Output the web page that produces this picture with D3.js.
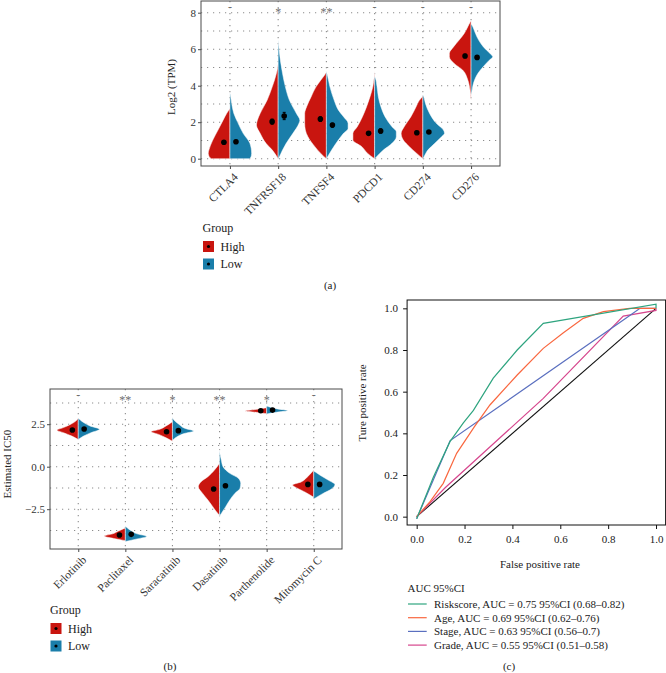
<!DOCTYPE html>
<html>
<head>
<meta charset="utf-8">
<script src="https://cdn.jsdelivr.net/npm/d3@7"></script>
<style>
  body { margin: 0; background: #fff; }
  svg { display: block; }
</style>
</head>
<body>
<script>
// ---------- data: panel (a) immune checkpoint genes ----------
const genes = ["CTLA4", "TNFRSF18", "TNFSF4", "PDCD1", "CD274", "CD276"];
const geneSig = ["-", "*", "**", "-", "-", "-"];
// violin outlines: [log2 TPM, relative half width]
const geneHighShape = [
  [[0, 0.86], [0.1, 0.95], [0.3, 1.0], [0.47, 0.97], [1.02, 0.79], [1.57, 0.55], [2.1, 0.32], [2.5, 0.14], [2.75, 0]],
  [[0, 0], [0.47, 0.27], [0.84, 0.56], [1.39, 0.83], [1.84, 1.0], [2.1, 0.96], [2.48, 0.83], [3.2, 0.51], [3.95, 0.27], [4.68, 0.08], [5.04, 0.02], [5.3, 0]],
  [[0, 0], [0.29, 0.26], [0.66, 0.53], [1.2, 0.85], [1.57, 0.97], [1.94, 1.0], [2.48, 1.0], [2.85, 0.91], [3.4, 0.7], [3.95, 0.47], [4.3, 0.26], [4.68, 0.03], [4.75, 0]],
  [[0, 0], [0.29, 0.32], [0.66, 0.59], [1.02, 1.0], [1.39, 1.0], [1.75, 0.8], [2.3, 0.56], [2.85, 0.37], [3.4, 0.21], [3.95, 0.08], [4.5, 0.02], [4.8, 0]],
  [[0, 0], [0.29, 0.28], [0.66, 0.62], [1.02, 0.9], [1.39, 1.0], [1.75, 0.86], [2.3, 0.55], [2.85, 0.31], [3.2, 0.16], [3.4, 0.03], [3.5, 0]],
  [[3.2, 0], [3.76, 0.05], [4.31, 0.15], [4.86, 0.39], [5.22, 0.78], [5.59, 1.0], [5.77, 1.0], [6.14, 0.8], [6.5, 0.55], [6.87, 0.31], [7.23, 0.15], [7.5, 0.03], [7.55, 0]]
];
const geneLowShape = [
  [[0, 0.9], [0.1, 0.97], [0.29, 1.0], [0.84, 0.92], [1.39, 0.61], [1.94, 0.38], [2.48, 0.18], [3.03, 0.08], [3.5, 0.02], [3.6, 0]],
  [[0, 0], [0.1, 0.05], [0.47, 0.2], [0.84, 0.37], [1.39, 0.68], [1.94, 0.96], [2.1, 1.0], [2.48, 0.84], [3.2, 0.52], [3.95, 0.33], [4.68, 0.2], [5.4, 0.1], [6.14, 0.03], [6.5, 0]],
  [[0, 0], [0.1, 0.05], [0.47, 0.24], [1.02, 0.55], [1.39, 0.79], [1.66, 1.0], [1.94, 1.0], [2.3, 0.79], [2.67, 0.55], [3.2, 0.36], [3.95, 0.16], [4.5, 0.06], [4.8, 0]],
  [[0, 0], [0.1, 0.08], [0.47, 0.4], [0.84, 0.8], [1.2, 1.0], [1.48, 1.0], [1.75, 0.8], [2.3, 0.48], [2.85, 0.29], [3.4, 0.17], [3.95, 0.11], [4.4, 0.04], [4.5, 0]],
  [[0, 0], [0.1, 0.05], [0.47, 0.23], [0.84, 0.55], [1.2, 0.86], [1.39, 1.0], [1.57, 0.95], [1.94, 0.62], [2.48, 0.31], [3.03, 0.12], [3.4, 0.04], [3.5, 0]],
  [[3.5, 0], [3.58, 0.02], [4.13, 0.11], [4.68, 0.32], [5.04, 0.56], [5.4, 0.84], [5.59, 1.0], [5.77, 0.87], [6.14, 0.56], [6.5, 0.35], [6.87, 0.2], [7.23, 0.08], [7.4, 0]]
];
const geneHighMean = [0.9, 2.03, 2.17, 1.39, 1.42, 5.63];
const geneLowMean = [0.93, 2.34, 1.84, 1.52, 1.46, 5.55];
const geneHighSe = [0.08, 0.14, 0.13, 0.1, 0.09, 0.1];
const geneLowSe = [0.08, 0.2, 0.1, 0.12, 0.07, 0.1];
const geneTicks = [0, 2, 4, 6, 8];
const geneMinor = [1, 3, 5, 7];

// ---------- data: panel (b) drug sensitivity ----------
const drugs = ["Erlotinib", "Paclitaxel", "Saracatinib", "Dasatinib", "Parthenolide", "Mitomycin C"];
const drugSig = ["-", "**", "*", "**", "*", "-"];
const drugHighShape = [
  [[1.6, 0], [1.8, 0.3], [2.0, 0.7], [2.15, 1.0], [2.3, 0.7], [2.5, 0.35], [2.7, 0.1], [2.85, 0]],
  [[-4.35, 0], [-4.22, 0.55], [-4.08, 1.0], [-3.95, 0.6], [-3.8, 0.35], [-3.6, 0]],
  [[1.5, 0], [1.7, 0.3], [1.9, 0.65], [2.06, 1.0], [2.2, 0.6], [2.4, 0.3], [2.65, 0]],
  [[-2.85, 0], [-2.75, 0.08], [-2.35, 0.32], [-1.96, 0.55], [-1.57, 0.8], [-1.18, 1.0], [-0.88, 0.87], [-0.59, 0.55], [-0.2, 0.24], [0.2, 0]],
  [[3.12, 0], [3.2, 0.5], [3.28, 1.0], [3.36, 0.55], [3.47, 0]],
  [[-1.8, 0], [-1.5, 0.4], [-1.25, 0.8], [-1.08, 1.0], [-0.9, 0.6], [-0.6, 0.3], [-0.2, 0]]
];
const drugLowShape = [
  [[1.6, 0], [1.8, 0.25], [2.0, 0.6], [2.2, 1.0], [2.4, 0.55], [2.6, 0.25], [2.85, 0]],
  [[-4.4, 0], [-4.25, 0.55], [-4.1, 1.0], [-3.95, 0.55], [-3.75, 0.25], [-3.5, 0]],
  [[1.55, 0], [1.75, 0.2], [1.95, 0.55], [2.1, 1.0], [2.25, 0.6], [2.5, 0.3], [2.7, 0.1], [2.9, 0]],
  [[-2.9, 0], [-2.75, 0.08], [-2.35, 0.28], [-1.96, 0.47], [-1.57, 0.7], [-1.27, 0.94], [-0.98, 0.97], [-0.69, 0.87], [-0.39, 0.47], [0, 0.16], [0.39, 0.08], [0.69, 0.03], [1.0, 0]],
  [[3.1, 0], [3.2, 0.45], [3.3, 1.0], [3.4, 0.5], [3.57, 0]],
  [[-1.9, 0], [-1.6, 0.4], [-1.3, 0.85], [-1.05, 1.0], [-0.8, 0.7], [-0.5, 0.3], [-0.25, 0]]
];
const drugHighMean = [2.16, -4.02, 2.06, -1.31, 3.29, -1.04];
const drugLowMean = [2.22, -3.98, 2.12, -1.12, 3.33, -1.04];
const drugHighSe = [0.03, 0.02, 0.03, 0.08, 0.01, 0.04];
const drugLowSe = [0.03, 0.02, 0.03, 0.08, 0.01, 0.04];
const drugTicks = [2.5, 0, -2.5];
const drugMinor = [3.75, 1.25, -1.25, -3.75];

// ---------- data: panel (c) ROC ----------
const rocNames = ["Riskscore", "Age", "Stage", "Grade"];
const rocLegend = [
  "Riskscore, AUC = 0.75 95%CI (0.68\u20130.82)",
  "Age, AUC = 0.69 95%CI (0.62\u20130.76)",
  "Stage, AUC = 0.63 95%CI (0.56\u20130.7)",
  "Grade, AUC = 0.55 95%CI (0.51\u20130.58)"
];
const rocColors = ["#2EA47F", "#F9673F", "#5A6FBF", "#D6468D"];
const rocRisk = [[0, -0.01], [0.07, 0.19], [0.139, 0.36], [0.195, 0.45], [0.237, 0.51], [0.32, 0.665], [0.42, 0.8], [0.529, 0.928], [1.0, 1.02], [1.0, 1.0]];
const rocAge = [[0, 0], [0.056, 0.072], [0.111, 0.16], [0.167, 0.304], [0.24, 0.43], [0.306, 0.536], [0.42, 0.68], [0.529, 0.808], [0.613, 0.883], [0.696, 0.952], [0.78, 0.984], [0.89, 1.0], [1, 1]];
const rocStage = [[0, -0.01], [0.14, 0.365], [0.877, 0.955], [0.933, 1.0], [1, 1]];
const rocGrade = [[0, 0], [0.12, 0.14], [0.529, 0.568], [0.863, 0.963], [1.0, 0.99], [1, 1]];
const rocRef = [[0, 0], [1, 1]];
const rocTicks = [0, 0.2, 0.4, 0.6, 0.8, 1.0];

// ---------- setup ----------
const FONT = "'Liberation Serif', 'DejaVu Serif', serif";
const RED = "#C9150F", BLUE = "#1A7EAA";
const svg = d3.select("body").append("svg")
  .attr("width", 666).attr("height", 673)
  .style("font-family", FONT);

function violinPanel(o) {
  const g = svg.append("g");
  const x = d3.scalePoint().domain(o.cats).range([o.left, o.right]).padding(0.6);
  const y = d3.scaleLinear().domain(o.yDomain).range([o.bottom, o.top]);
  const hw = x.step() * 0.45;
  const off = x.step() * 0.125;

  // dotted grid
  const grid = g.append("g").attr("stroke", "#8c8c8c").attr("stroke-width", 1.1)
    .attr("stroke-dasharray", "1.2,4.8");
  grid.selectAll(".h").data(o.ticks.concat(o.minor)).join("line")
    .attr("x1", o.left).attr("x2", o.right)
    .attr("y1", d => y(d)).attr("y2", d => y(d));
  grid.selectAll(".v").data(o.cats).join("line")
    .attr("x1", d => x(d)).attr("x2", d => x(d))
    .attr("y1", o.top).attr("y2", o.bottom);

  // half violins
  o.cats.forEach((c, i) => {
    const cx = x(c);
    [[o.high[i], -1, RED], [o.low[i], 1, BLUE]].forEach(([shape, dir, col]) => {
      const mx = d3.max(shape, d => d[1]);
      const area = d3.area()
        .y(d => y(d[0]))
        .x0(cx)
        .x1(d => cx + dir * hw * d[1] / mx)
        .curve(d3.curveMonotoneY);
      g.append("path").attr("d", area(shape)).attr("fill", col)
        .attr("stroke", "#fff").attr("stroke-width", 0.5);
    });
    // mean + error bar
    [[o.highMean[i], o.highSe[i], -1], [o.lowMean[i], o.lowSe[i], 1]].forEach(([m, se, dir]) => {
      const px = cx + dir * off;
      g.append("line").attr("x1", px).attr("x2", px)
        .attr("y1", y(m - se)).attr("y2", y(m + se)).attr("stroke", "#000").attr("stroke-width", 1);
      [m - se, m + se].forEach(v => g.append("line")
        .attr("x1", px - 1.5).attr("x2", px + 1.5).attr("y1", y(v)).attr("y2", y(v))
        .attr("stroke", "#000").attr("stroke-width", 1));
      g.append("circle").attr("cx", px).attr("cy", y(m)).attr("r", 2.8).attr("fill", "#000");
    });
  });

  // significance labels
  g.selectAll(".sig").data(o.sig).join("text")
    .attr("x", (d, i) => x(o.cats[i]))
    .attr("y", d => d === "-" ? o.sigY - 5 : o.sigY)
    .attr("text-anchor", "middle")
    .attr("font-size", 12).attr("fill", "#6e6e6e")
    .text(d => d);

  // border
  g.append("rect").attr("x", o.left).attr("y", o.top)
    .attr("width", o.right - o.left).attr("height", o.bottom - o.top)
    .attr("fill", "none").attr("stroke", "#4a4a4a").attr("stroke-width", 1);

  // axes
  const ya = g.append("g").attr("transform", `translate(${o.left},0)`)
    .call(d3.axisLeft(y).tickValues(o.ticks).tickSize(3).tickPadding(2).tickFormat(o.fmt));
  ya.select(".domain").remove();
  ya.selectAll("line").attr("stroke", "#4a4a4a");
  ya.selectAll("text").attr("font-family", FONT).attr("font-size", 11).attr("fill", "#333");

  const xa = g.append("g").attr("transform", `translate(0,${o.bottom})`)
    .call(d3.axisBottom(x).tickSize(3).tickFormat(""));
  xa.select(".domain").remove();
  xa.selectAll("line").attr("stroke", "#4a4a4a");
  g.selectAll(".xl").data(o.cats).join("text")
    .attr("transform", d => `translate(${x(d) + 3},${o.bottom + 6}) rotate(-45)`)
    .attr("text-anchor", "end").attr("dy", "0.7em")
    .attr("font-size", 11.5).attr("fill", "#333")
    .text(d => d);

  // y title
  g.append("text")
    .attr("transform", `translate(${o.yLabelX},${o.yLabelY}) rotate(-90)`)
    .attr("text-anchor", "middle").attr("font-size", 11).attr("fill", "#222")
    .text(o.yLabel);

  // legend
  const lg = g.append("g").attr("transform", `translate(${o.legX},${o.legY})`);
  lg.append("text").attr("x", 0).attr("y", 0).attr("font-size", 12).attr("fill", "#222").text("Group");
  [["High", RED], ["Low", BLUE]].forEach(([lab, col], k) => {
    const ky = 9 + k * 17.5;
    lg.append("rect").attr("x", 0.5).attr("y", ky).attr("width", 11).attr("height", 11).attr("fill", col);
    lg.append("circle").attr("cx", 6).attr("cy", ky + 5.5).attr("r", 1.6).attr("fill", "#000");
    lg.append("text").attr("x", 18).attr("y", ky + 9.5).attr("font-size", 12).attr("fill", "#222").text(lab);
  });

  svg.append("text").attr("x", o.capX).attr("y", o.capY).attr("text-anchor", "middle")
    .attr("font-size", 11).attr("fill", "#222").text(o.cap);
}

violinPanel({
  cats: genes, sig: geneSig, high: geneHighShape, low: geneLowShape,
  highMean: geneHighMean, lowMean: geneLowMean, highSe: geneHighSe, lowSe: geneLowSe,
  left: 201, right: 500, top: 1, bottom: 166,
  yDomain: [(158.7 - 166) / 18.25, (158.7 - 1) / 18.25],
  ticks: geneTicks, minor: geneMinor, fmt: d3.format("d"),
  sigY: 16, yLabel: "Log2 (TPM)", yLabelX: 175, yLabelY: 87,
  legX: 202.5, legY: 232, capX: 330, capY: 289, cap: "(a)"
});

violinPanel({
  cats: drugs, sig: drugSig, high: drugHighShape, low: drugLowShape,
  highMean: drugHighMean, lowMean: drugLowMean, highSe: drugHighSe, lowSe: drugLowSe,
  left: 50, right: 342, top: 389, bottom: 549,
  yDomain: [(466.7 - 549) / 17, (466.7 - 389) / 17],
  ticks: drugTicks, minor: drugMinor, fmt: d => d3.format(".1f")(d).replace("-", "\u2212"),
  sigY: 404, yLabel: "Estimated IC50", yLabelX: 11, yLabelY: 464,
  legX: 50, legY: 614, capX: 170, capY: 670, cap: "(b)"
});

// ---------- panel (c) ROC ----------
(function () {
  const g = svg.append("g");
  const x = d3.scaleLinear().domain([-0.04, 1.04]).range([407.1, 665.6]);
  const y = d3.scaleLinear().domain([-0.04, 1.04]).range([525, 300]);
  const line = d3.line().x(d => x(d[0])).y(d => y(d[1]));

  g.append("path").attr("d", line(rocRef)).attr("fill", "none").attr("stroke", "#111").attr("stroke-width", 1.1);
  [rocGrade, rocStage, rocAge, rocRisk].forEach((s, k) => {
    g.append("path").attr("d", line(s)).attr("fill", "none")
      .attr("stroke", rocColors[3 - k]).attr("stroke-width", 1.2);
  });

  g.append("rect").attr("x", 407.1).attr("y", 300).attr("width", 665.6 - 407.1).attr("height", 225)
    .attr("fill", "none").attr("stroke", "#111").attr("stroke-width", 1);

  const ya = g.append("g").attr("transform", "translate(407.1,0)")
    .call(d3.axisLeft(y).tickValues(rocTicks).tickSize(4).tickPadding(5).tickFormat(d3.format(".1f")));
  ya.select(".domain").remove();
  ya.selectAll("line").attr("stroke", "#111");
  ya.selectAll("text").attr("font-family", FONT).attr("font-size", 11).attr("fill", "#222");

  const xa = g.append("g").attr("transform", "translate(0,525)")
    .call(d3.axisBottom(x).tickValues(rocTicks).tickSize(4).tickPadding(6).tickFormat(d3.format(".1f")));
  xa.select(".domain").remove();
  xa.selectAll("line").attr("stroke", "#111");
  xa.selectAll("text").attr("font-family", FONT).attr("font-size", 11).attr("fill", "#222");

  g.append("text").attr("x", 540).attr("y", 568).attr("text-anchor", "middle")
    .attr("font-size", 11).attr("fill", "#222").text("False positive rate");
  g.append("text").attr("transform", "translate(366,403) rotate(-90)").attr("text-anchor", "middle")
    .attr("font-size", 11).attr("fill", "#222").text("Ture positive rate");

  g.append("text").attr("x", 407.5).attr("y", 592).attr("font-size", 11).attr("fill", "#222").text("AUC 95%CI");
  rocLegend.forEach((lab, k) => {
    const ly = 604 + k * 13.7;
    g.append("line").attr("x1", 408).attr("x2", 426.7).attr("y1", ly).attr("y2", ly)
      .attr("stroke", rocColors[k]).attr("stroke-width", 1.2);
    g.append("text").attr("x", 434).attr("y", ly + 3.8).attr("font-size", 11).attr("fill", "#222").text(lab);
  });

  svg.append("text").attr("x", 509).attr("y", 670).attr("text-anchor", "middle")
    .attr("font-size", 11).attr("fill", "#222").text("(c)");
})();
</script>
</body>
</html>
